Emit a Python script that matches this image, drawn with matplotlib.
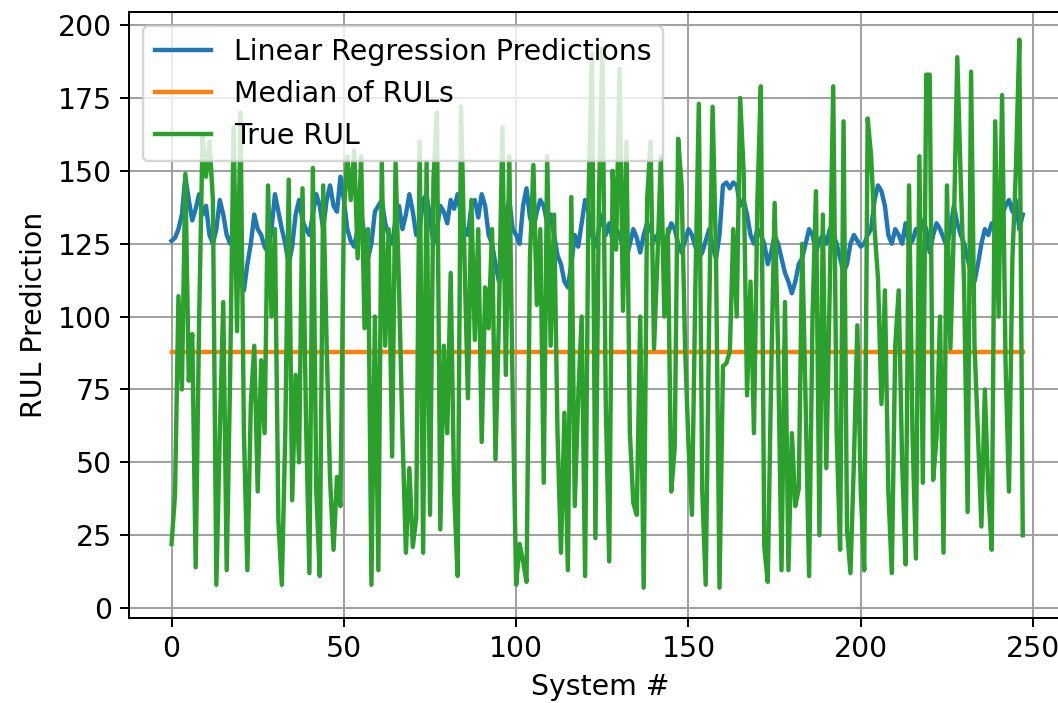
import matplotlib

matplotlib.use("agg")
import matplotlib.pyplot as plt
import numpy as np

# true RUL per test system
true_rul = [
    22, 39, 107, 75, 149, 78, 94, 14, 99, 162,
    148, 160, 140, 8, 60, 105, 13, 80, 165, 95,
    170, 60, 13, 70, 90, 40, 85, 60, 145, 100,
    130, 30, 8, 60, 147, 37, 80, 50, 144, 65,
    12, 151, 40, 11, 145, 90, 44, 20, 45, 35,
    136, 155, 140, 157, 120, 155, 96, 130, 8, 100,
    13, 153, 90, 130, 52, 153, 110, 60, 19, 48,
    21, 31, 160, 19, 153, 32, 147, 170, 27, 90,
    60, 115, 40, 11, 172, 120, 72, 140, 92, 130,
    57, 110, 96, 130, 51, 100, 165, 80, 155, 72,
    8, 22, 16, 9, 120, 152, 104, 130, 43, 155,
    90, 135, 60, 19, 67, 13, 141, 35, 72, 100,
    11, 141, 190, 24, 140, 192, 70, 16, 150, 123,
    185, 102, 160, 60, 36, 32, 100, 7, 140, 160,
    89, 120, 155, 100, 130, 40, 55, 161, 145, 90,
    56, 32, 110, 173, 40, 8, 100, 172, 120, 7,
    83, 84, 88, 130, 100, 175, 150, 73, 112, 60,
    140, 179, 21, 9, 80, 139, 89, 13, 105, 13,
    60, 35, 41, 125, 70, 11, 100, 143, 25, 135,
    48, 110, 179, 60, 20, 167, 27, 12, 50, 97,
    40, 13, 168, 155, 130, 113, 70, 109, 40, 12,
    90, 109, 50, 15, 145, 60, 17, 155, 43, 183,
    183, 44, 59, 100, 19, 145, 89, 130, 189, 147,
    110, 33, 184, 90, 60, 28, 75, 40, 20, 167,
    100, 176, 85, 40, 120, 150, 195, 25,
]

# linear regression predictions
lr_pred = [
    126, 127, 130, 135, 148, 140, 133, 137, 142, 135,
    138, 128, 125, 130, 140, 135, 128, 125, 130, 120,
    112, 109, 118, 125, 135, 130, 128, 124, 122, 130,
    142, 136, 130, 125, 118, 124, 135, 140, 133, 130,
    128, 135, 142, 138, 130, 140, 145, 138, 136, 148,
    140, 130, 126, 124, 130, 135, 128, 120, 125, 136,
    138, 140, 132, 128, 125, 133, 138, 130, 135, 142,
    136, 128, 130, 140, 142, 134, 125, 130, 138, 136,
    132, 140, 137, 142, 135, 130, 128, 138, 140, 134,
    142, 138, 128, 125, 118, 112, 115, 135, 140, 130,
    128, 125, 138, 144, 134, 130, 136, 140, 138, 132,
    135, 128, 121, 118, 112, 110, 118, 128, 124, 132,
    140, 136, 128, 124, 130, 135, 128, 132, 126, 130,
    128, 124, 120, 125, 130, 127, 122, 128, 132, 130,
    126, 128, 130, 124, 128, 132, 130, 125, 122, 126,
    130, 128, 124, 120, 122, 126, 130, 124, 120, 128,
    145, 146, 144, 146, 145, 138, 140, 135, 128, 125,
    130, 128, 125, 118, 122, 128, 125, 120, 115, 112,
    108, 112, 118, 120, 125, 130, 128, 122, 126, 128,
    125, 130, 128, 125, 120, 115, 118, 125, 128, 126,
    124, 125, 128, 130, 140, 145, 143, 138, 128, 125,
    130, 128, 125, 132, 125, 126, 130, 128, 133, 130,
    122, 128, 132, 130, 127, 124, 130, 138, 132, 128,
    125, 120, 115, 112, 118, 125, 130, 128, 132, 130,
    132, 135, 138, 140, 136, 140, 130, 135,
]

median_rul = 88.0

plt.rcParams["font.size"] = 11.6
plt.rcParams["lines.linewidth"] = 1.8
plt.rcParams["grid.color"] = "#a0a0a0"

DPI = 176.33
fig = plt.figure(figsize=(1058 / DPI, 703 / DPI), dpi=DPI)
# right spine sits just past the image edge, as in the cropped original
ax = fig.add_axes([129 / 1058, 85 / 703, 942 / 1058, 606 / 703])

x = np.arange(len(true_rul))
ax.plot(x, lr_pred, label="Linear Regression Predictions")
ax.plot(x, np.full(len(true_rul), median_rul), label="Median of RULs")
ax.plot(x, true_rul, label="True RUL")

ax.set_xlim(-12.35, 261)
ax.set_ylim(-3.4, 204.5)
ax.set_xticks([0, 50, 100, 150, 200, 250])
ax.set_yticks([0, 25, 50, 75, 100, 125, 150, 175, 200])
ax.set_xlabel("System #")
ax.set_ylabel("RUL Prediction")
ax.grid(True)
ax.legend(loc="upper left")

fig.savefig("out.png", dpi=DPI)
